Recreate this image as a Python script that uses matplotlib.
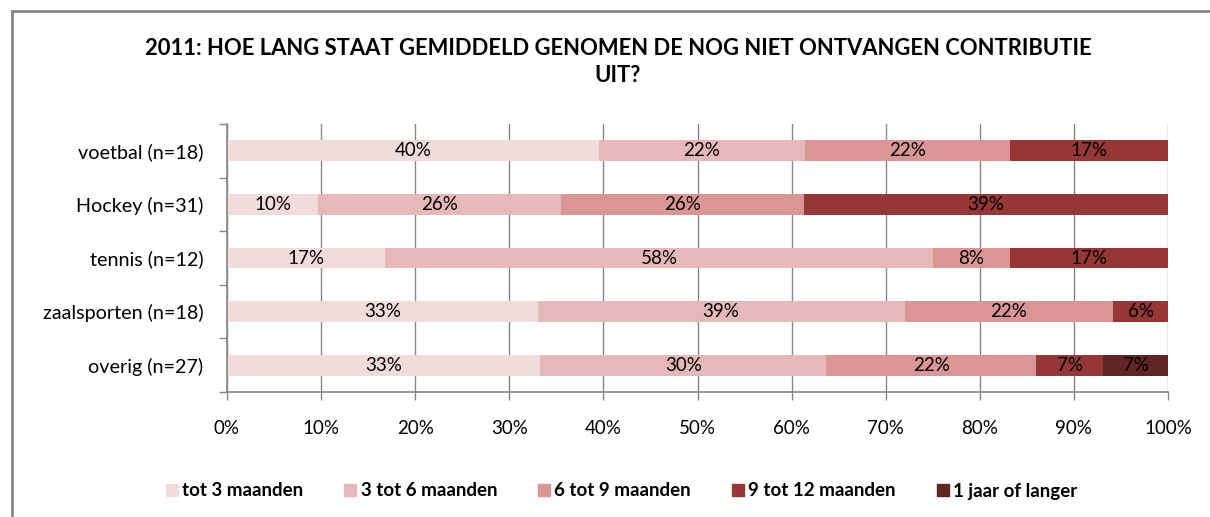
import matplotlib
matplotlib.use("Agg")
import matplotlib.pyplot as plt
from matplotlib.patches import Rectangle
from matplotlib.lines import Line2D
import numpy as np

plt.rcParams['font.family'] = ['Lato', 'DejaVu Sans']

title = "2011: HOE LANG STAAT GEMIDDELD GENOMEN DE NOG NIET ONTVANGEN CONTRIBUTIE\nUIT?"
categories = ["voetbal (n=18)", "Hockey (n=31)", "tennis (n=12)", "zaalsporten (n=18)", "overig (n=27)"]
series_names = ["tot 3 maanden", "3 tot 6 maanden", "6 tot 9 maanden", "9 tot 12 maanden", "1 jaar of langer"]
tot3 = [39.5, 9.7, 16.8, 33.0, 33.3]
tot6 = [21.9, 25.8, 58.2, 39.0, 30.4]
tot9 = [21.8, 25.8, 8.2, 22.2, 22.3]
tot12 = [16.8, 38.7, 16.8, 5.8, 7.1]
jaar = [0.0, 0.0, 0.0, 0.0, 6.9]
colors = ["#F2DCDB", "#E6B9B8", "#D99694", "#953735", "#632523"]
xticklabels = ["0%", "10%", "20%", "30%", "40%", "50%", "60%", "70%", "80%", "90%", "100%"]

series = [tot3, tot6, tot9, tot12, jaar]

W, H = 1210, 517
fig = plt.figure(figsize=(W / 100, H / 100), dpi=100)
ax = fig.add_axes([227 / W, 1 - 392 / H, (1168 - 227) / W, (392 - 124) / H])

y = np.arange(len(categories))
left = np.zeros(len(categories))
for vals, col, name in zip(series, colors, series_names):
    vals = np.array(vals)
    ax.barh(y, vals, left=left, height=0.39, color=col, label=name, zorder=3)
    for yi, (l, v) in enumerate(zip(left, vals)):
        if v > 0:
            ax.text(l + v / 2, yi, f"{v:.0f}%", ha='center', va='center',
                    fontsize=13.5, color='black', zorder=4)
    left = left + vals

ax.set_xlim(0, 100)
ax.set_ylim(len(categories) - 0.5, -0.5)
ax.set_xticks(np.arange(0, 101, 10))
ax.set_xticklabels(xticklabels, fontsize=13.5)
ax.set_yticks(np.arange(-0.5, len(categories), 1))
ax.set_yticklabels([])
ax.set_yticks(y, minor=True)
ax.set_yticklabels(categories, minor=True, fontsize=14.2)
ax.tick_params(axis='y', which='minor', length=0, pad=17)
ax.tick_params(axis='y', which='major', length=6, color='#868686', width=1)
ax.tick_params(axis='x', which='major', length=6, color='#868686', width=1, pad=14)
ax.grid(axis='x', color='#868686', linewidth=1, zorder=0)
for s in ['top', 'right']:
    ax.spines[s].set_visible(False)
for s in ['left', 'bottom']:
    ax.spines[s].set_color('#868686')
    ax.spines[s].set_linewidth(1.2)
    ax.spines[s].set_zorder(5)

fig.text(618 / W, 1 - 62 / H, title, ha='center', va='center', fontsize=15.8,
         fontweight='bold', linespacing=1.4)

handles = [Line2D([0], [0], marker='s', linestyle='none', markersize=9,
                  markerfacecolor=c, markeredgecolor=c) for c in colors]
fig.legend(handles, series_names, loc='center', bbox_to_anchor=(620 / W, 1 - 491 / H),
           ncol=5, frameon=False, prop={'size': 13.5, 'weight': 'bold'},
           handletextpad=0.05, columnspacing=2.0, handlelength=1.0)

fig.add_artist(Rectangle((12 / W, -0.05), 1.1, 1 - 11 / H + 0.05, transform=fig.transFigure,
                         fill=False, edgecolor='#868686', linewidth=2))

fig.savefig("out.png", dpi=100)
